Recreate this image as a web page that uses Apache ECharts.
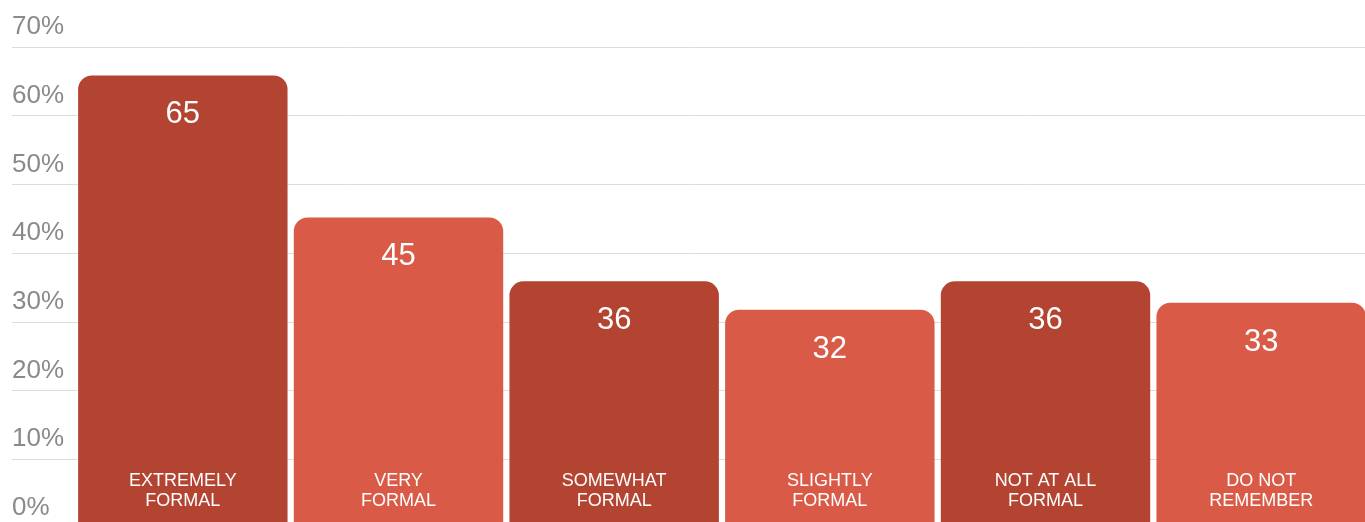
<!DOCTYPE html>
<html>
<head>
<meta charset="utf-8">
<script src="https://cdn.jsdelivr.net/npm/echarts@6/dist/echarts.min.js"></script>
<style>
  html, body { margin: 0; padding: 0; background: #ffffff; overflow: hidden; }
  #wrap { width: 1365px; height: 522px; overflow: hidden; }
  #chart { width: 1375px; height: 545px; }
</style>
</head>
<body>
<div id="wrap"><div id="chart"></div></div>
<script>
// Survey answers: how formal the occasion was
const categories = [
  'EXTREMELY\nFORMAL',
  'VERY\nFORMAL',
  'SOMEWHAT\nFORMAL',
  'SLIGHTLY\nFORMAL',
  'NOT AT ALL\nFORMAL',
  'DO NOT\nREMEMBER'
];
const values = [65, 45, 36, 32, 36, 33];
const yTicks = [0, 10, 20, 30, 40, 50, 60, 70];

// Alternating bar shades
const barColors = ['#B24431', '#D95A46'];
const FONT = '"Liberation Sans", Arial, Helvetica, sans-serif';

const chart = echarts.init(document.getElementById('chart'), null, { renderer: 'canvas' });

const yMin = yTicks[0];
const yMax = yTicks[yTicks.length - 1];
const yStep = yTicks[1] - yTicks[0];

chart.setOption({
  animation: false,
  backgroundColor: '#ffffff',
  grid: [
    // wide grid carrying gridlines and percentage labels
    { left: 12, width: 1353, top: 47, height: 481, containLabel: false },
    // grid for the bars (its own, slightly taller scale)
    { left: 75, width: 1294, top: 47, height: 490, containLabel: false }
  ],
  xAxis: [
    { gridIndex: 0, type: 'value', show: false, min: 0, max: 1 },
    {
      gridIndex: 1,
      type: 'category',
      data: categories,
      z: 10,
      axisLine: { show: false },
      axisTick: { show: false },
      axisLabel: {
        inside: true,
        margin: 26,
        interval: 0,
        color: '#ffffff',
        fontFamily: FONT,
        fontSize: 18,
        lineHeight: 20
      }
    }
  ],
  yAxis: [
    {
      gridIndex: 0,
      type: 'value',
      min: yMin,
      max: yMax,
      interval: yStep,
      axisLine: { show: false },
      axisTick: { show: false },
      splitLine: { show: true, lineStyle: { color: '#dddddd', width: 1 } },
      axisLabel: {
        inside: true,
        margin: 0,
        align: 'left',
        verticalAlign: 'bottom',
        padding: [0, 0, 7, 0],
        color: '#8a8a8a',
        fontFamily: FONT,
        fontSize: 26,
        formatter: v => v + '%'
      }
    },
    {
      gridIndex: 1,
      type: 'value',
      min: 0,
      max: 69,
      show: false,
      splitLine: { show: false }
    }
  ],
  series: [
    {
      type: 'bar',
      xAxisIndex: 1,
      yAxisIndex: 1,
      barCategoryGap: '2.9%',
      data: values.map((v, i) => ({
        value: v,
        itemStyle: { color: barColors[i % 2], borderRadius: 14 }
      })),
      label: {
        show: true,
        position: 'insideTop',
        distance: 24,
        color: '#ffffff',
        fontFamily: FONT,
        fontSize: 31
      }
    }
  ]
});
</script>
</body>
</html>
